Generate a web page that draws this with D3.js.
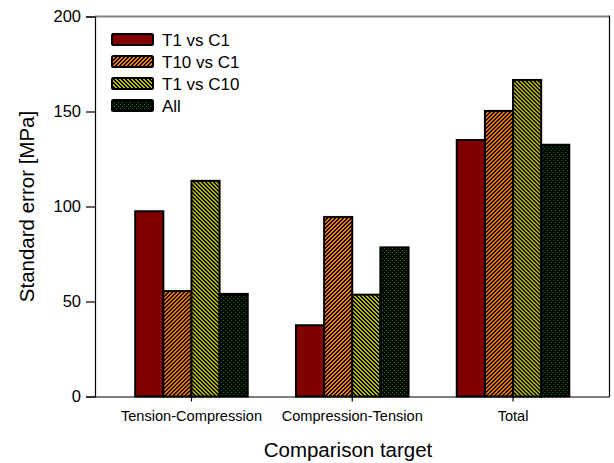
<!DOCTYPE html>
<html>
<head>
<meta charset="utf-8">
<script src="https://cdn.jsdelivr.net/npm/d3@7"></script>
<style>
  html, body { margin: 0; padding: 0; background: #fff; }
  svg { display: block; font-family: Arial, "Liberation Sans", sans-serif; }
</style>
</head>
<body>
<svg id="chart" width="614" height="463"></svg>
<script>
// Comparison groups along the x axis
const categories = ["Tension-Compression", "Compression-Tension", "Total"];
// Series names (legend order)
const seriesNames = ["T1 vs C1", "T10 vs C1", "T1 vs C10", "All"];
// Standard error [MPa] for each series, per category
const t1VsC1  = [97.5, 37.5, 135.0];
const t10VsC1 = [55.5, 94.5, 150.3];
const t1VsC10 = [113.5, 53.6, 166.6];
const allComb = [54.0, 78.5, 132.5];
const yTicks = [0, 50, 100, 150, 200];

const seriesValues = [t1VsC1, t10VsC1, t1VsC10, allComb];

const svg = d3.select("#chart");
const margin = { left: 95, right: 4.5, top: 16.5, bottom: 66.5 };
const W = 614, H = 463;
const x0 = margin.left, x1 = W - margin.right;
const y0 = H - margin.bottom, y1 = margin.top;

// ---- fill patterns ----
const defs = svg.append("defs");
function pixelPattern(id, size, bg, fg, test) {
  const p = defs.append("pattern")
    .attr("id", id).attr("patternUnits", "userSpaceOnUse")
    .attr("width", size).attr("height", size);
  p.append("rect").attr("width", size).attr("height", size).attr("fill", bg);
  for (let yy = 0; yy < size; yy++) {
    for (let xx = 0; xx < size; xx++) {
      if (test(xx, yy)) {
        p.append("rect").attr("x", xx).attr("y", yy)
          .attr("width", 1).attr("height", 1)
          .attr("fill", fg).attr("shape-rendering", "crispEdges");
      }
    }
  }
}
// orange with "/" black hatching
pixelPattern("hatchFwd", 4, "#ff8000", "#000", (x, y) => ((x + y) % 4) < 2);
// olive-yellow with "\" black hatching
pixelPattern("hatchBack", 4, "#c0c000", "#000", (x, y) => (((x - y) % 4) + 4) % 4 < 2);
// black with green dots
pixelPattern("dots", 4, "#000", "#009a00", (x, y) => (x === 0 && y === 0) || (x === 2 && y === 2));

const fills = ["#800000", "url(#hatchFwd)", "url(#hatchBack)", "url(#dots)"];

// ---- scales ----
const xBand = d3.scaleBand().domain(categories).range([x0, x1])
  .paddingInner(0.3).paddingOuter(0.25);
const xInner = d3.scaleBand().domain(seriesNames).range([0, xBand.bandwidth()]);
const y = d3.scaleLinear().domain([0, 200]).range([y0, y1]);

// ---- frame (top and right) ----
svg.append("line").attr("x1", x0).attr("x2", x1).attr("y1", y1).attr("y2", y1)
  .attr("stroke", "#808080").attr("stroke-width", 2);
svg.append("line").attr("x1", x1).attr("x2", x1).attr("y1", y1 - 1).attr("y2", y0)
  .attr("stroke", "#000").attr("stroke-width", 1.2);

// ---- bars ----
const groups = svg.append("g").selectAll("g").data(categories).join("g")
  .attr("transform", d => `translate(${xBand(d)},0)`);
groups.each(function (cat, ci) {
  const g = d3.select(this);
  seriesNames.forEach((s, si) => {
    const v = seriesValues[si][ci];
    g.append("rect")
      .attr("x", xInner(s)).attr("width", xInner.bandwidth())
      .attr("y", y(v)).attr("height", y(0) - y(v))
      .attr("fill", fills[si])
      .attr("stroke", "#000").attr("stroke-width", 2);
  });
});

// ---- axes ----
const yAxis = svg.append("g").attr("transform", `translate(${x0},0)`)
  .call(d3.axisLeft(y).tickValues(yTicks).tickSize(9).tickPadding(5).tickFormat(d3.format("d")));
yAxis.select(".domain").attr("stroke", "#000").attr("stroke-width", 1.2);
yAxis.selectAll(".tick line").attr("stroke", "#000").attr("stroke-width", 1.2);
yAxis.selectAll("text").attr("font-size", 16.5).attr("fill", "#000")
  .attr("font-family", "Arial, 'Liberation Sans', sans-serif");

const xAxis = svg.append("g").attr("transform", `translate(0,${y0})`)
  .call(d3.axisBottom(xBand).tickSize(5).tickPadding(9).tickSizeOuter(0));
xAxis.select(".domain").attr("stroke", "#000").attr("stroke-width", 1.2);
xAxis.selectAll(".tick line").attr("stroke", "#000").attr("stroke-width", 1.2);
xAxis.selectAll("text").attr("font-size", 14.6).attr("fill", "#000")
  .attr("font-family", "Arial, 'Liberation Sans', sans-serif");

// ---- axis titles ----
svg.append("text").attr("x", 348).attr("y", 456.5).attr("text-anchor", "middle")
  .attr("font-size", 20.5).attr("fill", "#000").text("Comparison target");
svg.append("text").attr("transform", `translate(33.5,${(y0 + y1) / 2}) rotate(-90)`)
  .attr("text-anchor", "middle").attr("font-size", 20.5).attr("fill", "#000")
  .text("Standard error [MPa]");

// ---- legend ----
const legend = svg.append("g").attr("transform", "translate(112,34)");
seriesNames.forEach((s, i) => {
  const row = legend.append("g").attr("transform", `translate(0,${i * 22})`);
  row.append("rect").attr("x", 0).attr("y", 0).attr("width", 41).attr("height", 11)
    .attr("rx", 1.5).attr("fill", fills[i]).attr("stroke", "#000").attr("stroke-width", 2);
  row.append("text").attr("x", 50).attr("y", 5.5).attr("dy", "0.36em")
    .attr("font-size", 17).attr("fill", "#000").text(s);
});
</script>
</body>
</html>
